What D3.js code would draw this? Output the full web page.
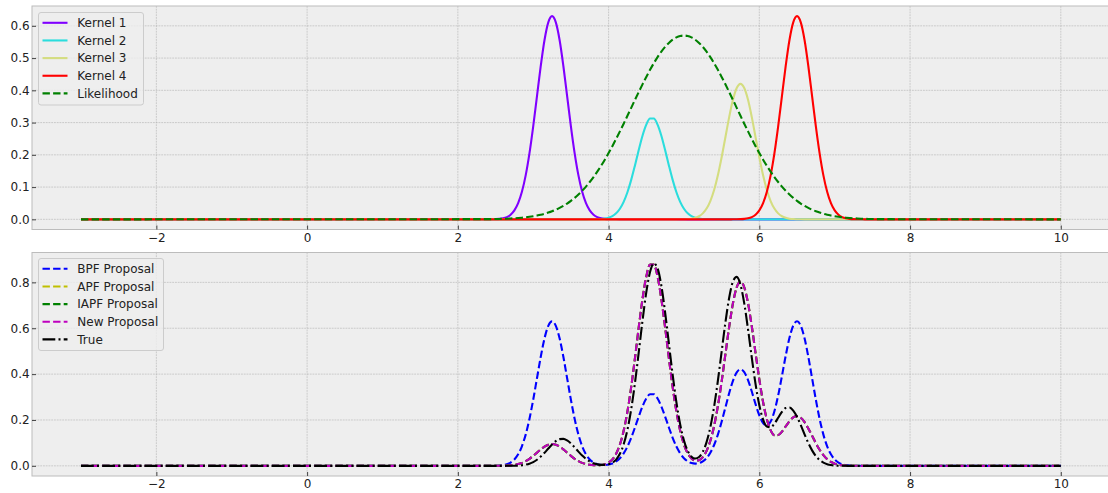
<!DOCTYPE html>
<html><head><meta charset="utf-8">
<script src="https://cdn.jsdelivr.net/npm/d3@7"></script>
<style>
html,body{margin:0;padding:0;background:#fff;}
svg{display:block;font-family:"DejaVu Sans",sans-serif;}
</style></head><body>
<svg id="chart" width="1108" height="493"></svg>
<script>
// x grid (shared by every series)
const xs = [-3,
 2.40,2.45,2.50,2.55,2.60,2.65,2.70,2.75,2.80,2.85,
 2.90,2.95,3.00,3.05,3.10,3.15,3.20,3.25,3.30,3.35,
 3.40,3.45,3.50,3.55,3.60,3.65,3.70,3.75,3.80,3.85,
 3.90,3.95,4.00,4.05,4.10,4.15,4.20,4.25,4.30,4.35,
 4.40,4.45,4.50,4.55,4.60,4.65,4.70,4.75,4.80,4.85,
 4.90,4.95,5.00,5.05,5.10,5.15,5.20,5.25,5.30,5.35,
 5.40,5.45,5.50,5.55,5.60,5.65,5.70,5.75,5.80,5.85,
 5.90,5.95,6.00,6.05,6.10,6.15,6.20,6.25,6.30,6.35,
 6.40,6.45,6.50,6.55,6.60,6.65,6.70,6.75,6.80,6.85,
 6.90,6.95,7.00,7.05,7.10,7.15,7.20,7.25,7.30,7.35,
 7.40,7.45,7.50,7.55,7.60,
 10];

const kernel1 = [0,
 .0001,.0002,.0006,.0014,.0032,.0070,.0144,.0277,.0501,.0853,
 .1362,.2045,.2884,.3821,.4755,.5560,.6106,.6300,.6106,.5560,
 .4755,.3821,.2884,.2045,.1362,.0853,.0501,.0277,.0144,.0070,
 .0032,.0014,.0006,.0002,.0001,0,0,0,0,0,
 0,0,0,0,0,0,0,0,0,0,
 0,0,0,0,0,0,0,0,0,0,
 0,0,0,0,0,0,0,0,0,0,
 0,0,0,0,0,0,0,0,0,0,
 0,0,0,0,0,0,0,0,0,0,
 0,0,0,0,0,0,0,0,0,0,
 0,0,0,0,0,
 0];
const kernel2 = [0,
 0,0,0,0,0,0,0,0,0,0,
 0,0,0,0,0,0,0,0,0,0,
 0,0,0,0,0,0,0,.0001,.0002,.0004,
 .0011,.0024,.0051,.0100,.0188,.0329,.0543,.0841,.1224,.1673,
 .2148,.2591,.2936,.3125,.3125,.2936,.2591,.2148,.1673,.1224,
 .0841,.0543,.0329,.0188,.0100,.0051,.0024,.0011,.0004,.0002,
 .0001,0,0,0,0,0,0,0,0,0,
 0,0,0,0,0,0,0,0,0,0,
 0,0,0,0,0,0,0,0,0,0,
 0,0,0,0,0,0,0,0,0,0,
 0,0,0,0,0,
 0];
const kernel3 = [0,
 0,0,0,0,0,0,0,0,0,0,
 0,0,0,0,0,0,0,0,0,0,
 0,0,0,0,0,0,0,0,0,0,
 0,0,0,0,0,0,0,0,0,0,
 0,0,0,0,0,0,0,0,0,0,
 0,.0001,.0004,.0009,.0021,.0047,.0096,.0185,.0334,.0568,
 .0908,.1364,.1923,.2547,.3170,.3707,.4071,.4200,.4071,.3707,
 .3170,.2547,.1923,.1364,.0908,.0568,.0334,.0185,.0096,.0047,
 .0021,.0009,.0004,.0001,0,0,0,0,0,0,
 0,0,0,0,0,0,0,0,0,0,
 0,0,0,0,0,
 0];
const kernel4 = [0,
 0,0,0,0,0,0,0,0,0,0,
 0,0,0,0,0,0,0,0,0,0,
 0,0,0,0,0,0,0,0,0,0,
 0,0,0,0,0,0,0,0,0,0,
 0,0,0,0,0,0,0,0,0,0,
 0,0,0,0,0,0,0,0,0,0,
 0,0,0,0,0,.0001,.0002,.0006,.0014,.0032,
 .0070,.0144,.0277,.0501,.0853,.1362,.2045,.2884,.3821,.4755,
 .5560,.6106,.6300,.6106,.5560,.4755,.3821,.2884,.2045,.1362,
 .0853,.0501,.0277,.0144,.0070,.0032,.0014,.0006,.0002,.0001,
 0,0,0,0,0,
 0];
const likelihood = [0,
 .0006,.0007,.0010,.0012,.0016,.0020,.0026,.0033,.0041,.0051,
 .0063,.0078,.0096,.0118,.0143,.0173,.0209,.0250,.0299,.0354,
 .0418,.0491,.0574,.0667,.0771,.0887,.1016,.1157,.1311,.1478,
 .1658,.1850,.2054,.2269,.2494,.2727,.2966,.3210,.3457,.3704,
 .3947,.4186,.4416,.4635,.4841,.5030,.5199,.5347,.5471,.5570,
 .5641,.5685,.5699,.5685,.5641,.5570,.5471,.5347,.5199,.5030,
 .4841,.4635,.4416,.4186,.3947,.3704,.3457,.3210,.2966,.2727,
 .2494,.2269,.2054,.1850,.1658,.1478,.1311,.1157,.1016,.0887,
 .0771,.0667,.0574,.0491,.0418,.0354,.0299,.0250,.0209,.0173,
 .0143,.0118,.0096,.0078,.0063,.0051,.0041,.0033,.0026,.0020,
 .0016,.0012,.0010,.0007,.0006,
 0];
const bpfProposal = [0,
 .0001,.0002,.0006,.0014,.0032,.0070,.0144,.0277,.0501,.0853,
 .1362,.2045,.2884,.3821,.4755,.5560,.6106,.6300,.6106,.5560,
 .4755,.3821,.2884,.2045,.1362,.0853,.0501,.0278,.0146,.0074,
 .0043,.0038,.0057,.0102,.0189,.0329,.0543,.0841,.1224,.1673,
 .2148,.2591,.2936,.3125,.3125,.2936,.2591,.2148,.1673,.1224,
 .0841,.0544,.0333,.0197,.0121,.0098,.0120,.0196,.0338,.0570,
 .0909,.1364,.1923,.2547,.3170,.3708,.4073,.4206,.4085,.3739,
 .3240,.2691,.2200,.1865,.1761,.1930,.2379,.3069,.3917,.4802,
 .5581,.6115,.6304,.6107,.5560,.4755,.3821,.2884,.2045,.1362,
 .0853,.0501,.0277,.0144,.0070,.0032,.0014,.0006,.0002,.0001,
 0,0,0,0,0,
 0];
const apfProposal = [0,
 0,0,.0001,.0002,.0005,.0011,.0022,.0042,.0076,.0129,
 .0205,.0308,.0435,.0576,.0717,.0838,.0921,.0950,.0921,.0838,
 .0717,.0576,.0435,.0308,.0205,.0129,.0077,.0044,.0027,.0023,
 .0035,.0069,.0143,.0282,.0527,.0926,.1526,.2363,.3439,.4700,
 .6035,.7280,.8249,.8781,.8781,.8249,.7280,.6035,.4700,.3439,
 .2363,.1529,.0933,.0545,.0323,.0231,.0250,.0383,.0651,.1092,
 .1739,.2608,.3676,.4870,.6061,.7087,.7784,.8032,.7788,.7098,
 .6085,.4919,.3771,.2779,.2029,.1554,.1340,.1342,.1493,.1719,
 .1947,.2112,.2167,.2097,.1907,.1630,.1310,.0989,.0701,.0467,
 .0292,.0172,.0095,.0049,.0024,.0011,.0005,.0002,.0001,0,
 0,0,0,0,0,
 0];
const iapfProposal = [0,
 0,0,.0001,.0002,.0005,.0011,.0022,.0042,.0076,.0129,
 .0205,.0308,.0435,.0576,.0717,.0838,.0921,.0950,.0921,.0838,
 .0717,.0576,.0435,.0308,.0205,.0129,.0077,.0044,.0027,.0023,
 .0035,.0069,.0143,.0282,.0527,.0926,.1526,.2363,.3439,.4700,
 .6035,.7280,.8249,.8781,.8781,.8249,.7280,.6035,.4700,.3439,
 .2363,.1529,.0933,.0545,.0323,.0231,.0250,.0383,.0651,.1092,
 .1739,.2608,.3676,.4870,.6061,.7087,.7784,.8032,.7788,.7098,
 .6085,.4919,.3771,.2779,.2029,.1554,.1340,.1342,.1493,.1719,
 .1947,.2112,.2167,.2097,.1907,.1630,.1310,.0989,.0701,.0467,
 .0292,.0172,.0095,.0049,.0024,.0011,.0005,.0002,.0001,0,
 0,0,0,0,0,
 0];
const newProposal = [0,
 0,0,.0001,.0002,.0005,.0011,.0022,.0042,.0076,.0129,
 .0205,.0308,.0435,.0576,.0717,.0838,.0921,.0950,.0921,.0838,
 .0717,.0576,.0435,.0308,.0205,.0129,.0077,.0044,.0027,.0023,
 .0035,.0069,.0143,.0282,.0527,.0926,.1526,.2363,.3439,.4700,
 .6035,.7280,.8249,.8781,.8781,.8249,.7280,.6035,.4700,.3439,
 .2363,.1529,.0933,.0545,.0323,.0231,.0250,.0383,.0651,.1092,
 .1739,.2608,.3676,.4870,.6061,.7087,.7784,.8032,.7788,.7098,
 .6085,.4919,.3771,.2779,.2029,.1554,.1340,.1342,.1493,.1719,
 .1947,.2112,.2167,.2097,.1907,.1630,.1310,.0989,.0701,.0467,
 .0292,.0172,.0095,.0049,.0024,.0011,.0005,.0002,.0001,0,
 0,0,0,0,0,
 0];
const trueDensity = [0,
 0,0,0,0,0,.0001,.0002,.0005,.0012,.0026,
 .0051,.0095,.0164,.0266,.0403,.0570,.0754,.0932,.1077,.1164,
 .1175,.1108,.0978,.0806,.0621,.0447,.0301,.0189,.0111,.0065,
 .0041,.0041,.0068,.0136,.0274,.0524,.0940,.1576,.2469,.3615,
 .4947,.6328,.7564,.8450,.8824,.8612,.7856,.6697,.5336,.3974,
 .2768,.1805,.1106,.0653,.0401,.0317,.0384,.0613,.1034,.1684,
 .2583,.3710,.4979,.6249,.7332,.8038,.8238,.7897,.7082,.5956,
 .4719,.3565,.2639,.2018,.1712,.1677,.1838,.2095,.2350,.2518,
 .2544,.2411,.2138,.1773,.1375,.0997,.0675,.0427,.0253,.0140,
 .0072,.0035,.0016,.0007,.0003,.0001,0,0,0,0,
 0,0,0,0,0,
 0];

const xTicks = [-2, 0, 2, 4, 6, 8, 10];
const topYTicks = [0, 0.1, 0.2, 0.3, 0.4, 0.5, 0.6];
const bottomYTicks = [0, 0.2, 0.4, 0.6, 0.8];
const topNames = ['Kernel 1', 'Kernel 2', 'Kernel 3', 'Kernel 4', 'Likelihood'];
const bottomNames = ['BPF Proposal', 'APF Proposal', 'IAPF Proposal', 'New Proposal', 'True'];

const DASH = '7.4,3.2';
const DASHDOT = '12.8,3.2,2,3.2';
const FS = 12;

const svg = d3.select('#chart');
const X0 = 32, X1 = 1109.8;
const x = d3.scaleLinear().domain([-3.65, 10.65]).range([X0, X1]);

const panels = [
  { top: 6, bottom: 229.5, yDomain: [-0.0315, 0.6615], yTicks: topYTicks,
    series: [
      { name: topNames[0], values: kernel1, color: '#8000ff', dash: null },
      { name: topNames[1], values: kernel2, color: '#2bdddd', dash: null },
      { name: topNames[2], values: kernel3, color: '#d4dd80', dash: null },
      { name: topNames[3], values: kernel4, color: '#ff0000', dash: null },
      { name: topNames[4], values: likelihood, color: '#008000', dash: DASH }
    ],
    legend: { x: 38.5, y: 12.5, w: 105, h: 92.5 } },
  { top: 252.5, bottom: 476, yDomain: [-0.0443, 0.9303], yTicks: bottomYTicks,
    series: [
      { name: bottomNames[0], values: bpfProposal, color: '#0000ff', dash: DASH },
      { name: bottomNames[1], values: apfProposal, color: '#bfbf00', dash: DASH },
      { name: bottomNames[2], values: iapfProposal, color: '#008000', dash: DASH },
      { name: bottomNames[3], values: newProposal, color: '#bf00bf', dash: DASH },
      { name: bottomNames[4], values: trueDensity, color: '#000000', dash: DASHDOT }
    ],
    legend: { x: 38.5, y: 258.5, w: 125, h: 92 } }
];

panels.forEach((p, pi) => {
  const y = d3.scaleLinear().domain(p.yDomain).range([p.bottom, p.top]);
  const g = svg.append('g');
  g.append('rect').attr('x', X0).attr('y', p.top).attr('width', X1 - X0).attr('height', p.bottom - p.top)
    .attr('fill', '#eeeeee');
  // grid
  const grid = g.append('g').attr('stroke', '#b2b2b2').attr('stroke-width', 0.6).attr('stroke-dasharray', '1.85,0.9');
  grid.selectAll('line.v').data(xTicks).join('line').attr('class', 'v')
    .attr('x1', d => x(d)).attr('x2', d => x(d)).attr('y1', p.top).attr('y2', p.bottom);
  grid.selectAll('line.h').data(p.yTicks).join('line').attr('class', 'h')
    .attr('x1', X0).attr('x2', X1).attr('y1', d => y(d)).attr('y2', d => y(d));

  const clipId = 'clip' + pi;
  svg.append('clipPath').attr('id', clipId).append('rect')
    .attr('x', X0).attr('y', p.top).attr('width', X1 - X0).attr('height', p.bottom - p.top);
  const line = d3.line().x((d, i) => x(xs[i])).y(d => y(d)).curve(d3.curveMonotoneX);
  const lines = g.append('g').attr('clip-path', `url(#${clipId})`);
  p.series.forEach(s => {
    lines.append('path').datum(s.values).attr('d', line)
      .attr('fill', 'none').attr('stroke', s.color).attr('stroke-width', 2.1)
      .attr('stroke-dasharray', s.dash).attr('stroke-linejoin', 'round');
  });

  // spines
  g.append('rect').attr('x', X0).attr('y', p.top).attr('width', X1 - X0).attr('height', p.bottom - p.top)
    .attr('fill', 'none').attr('stroke', '#bcbcbc').attr('stroke-width', 1);

  // axes
  const fmtX = d => (d < 0 ? '\u2212' + Math.abs(d) : String(d));
  const ax = g.append('g').attr('transform', `translate(0,${p.bottom})`)
    .call(d3.axisBottom(x).tickValues(xTicks).tickFormat(fmtX).tickSizeInner(-4).tickSizeOuter(0).tickPadding(3.6));
  const ay = g.append('g').attr('transform', `translate(${X0},0)`)
    .call(d3.axisLeft(y).tickValues(p.yTicks).tickFormat(d3.format('.1f')).tickSizeInner(-4).tickSizeOuter(0).tickPadding(2.4));
  [ax, ay].forEach(a => {
    a.select('.domain').remove();
    a.selectAll('.tick line').attr('stroke', '#333').attr('stroke-width', 0.9);
    a.selectAll('.tick text').attr('fill', '#222').attr('font-size', FS)
      .attr('font-family', '"DejaVu Sans", sans-serif');
  });

  // legend
  const L = p.legend;
  const lg = g.append('g');
  lg.append('rect').attr('x', L.x).attr('y', L.y).attr('width', L.w).attr('height', L.h)
    .attr('rx', 2.5).attr('fill', '#eeeeee').attr('fill-opacity', 0.8)
    .attr('stroke', '#cccccc').attr('stroke-width', 1);
  const rows = lg.selectAll('g.row').data(p.series).join('g').attr('class', 'row')
    .attr('transform', (d, i) => `translate(0,${L.y + 10.3 + i * 17.65})`);
  rows.append('line').attr('x1', 42.5).attr('x2', 67.5).attr('y1', 0).attr('y2', 0)
    .attr('stroke', d => d.color).attr('stroke-width', 2.1).attr('stroke-dasharray', d => d.dash);
  rows.append('text').attr('x', 77.3).attr('y', 0).attr('dy', '0.35em')
    .attr('font-size', FS).attr('fill', '#222').text(d => d.name);
});
</script>
</body></html>
